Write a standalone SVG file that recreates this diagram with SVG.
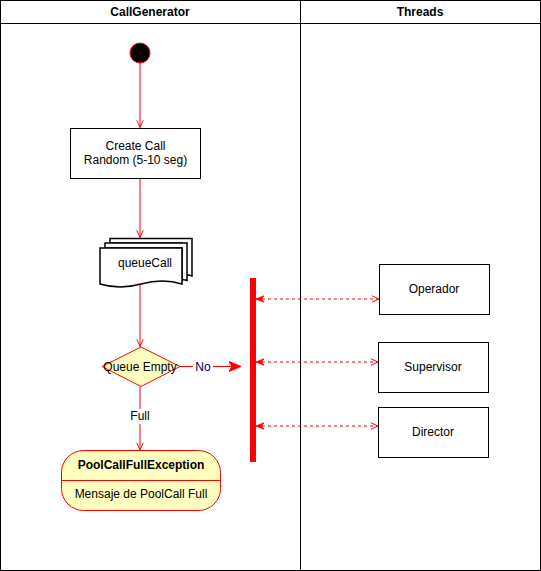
<svg xmlns="http://www.w3.org/2000/svg" width="541" height="571" viewBox="0 0 541 571">
<defs>
<style>
text{font-family:"Liberation Sans",Arial,sans-serif;font-size:12px;fill:#000;text-anchor:middle;dominant-baseline:central}
.b{font-weight:bold}
.lane{fill:none;stroke:#000;stroke-width:1}
.box{fill:#fff;stroke:#000;stroke-width:1}
.red{stroke:#ff0000;fill:none;stroke-width:1}
.dash{stroke:#ff0000;fill:none;stroke-width:1;stroke-dasharray:3 3}
.yel{fill:#ffffc0;stroke:#ff0000;stroke-width:1}
</style>
<marker id="open" viewBox="0 0 10 10" refX="10" refY="5" markerWidth="8" markerHeight="8" markerUnits="userSpaceOnUse" orient="auto">
<path d="M1,1 L10,5 L1,9" fill="none" stroke="#ff0000" stroke-width="1.2"/>
</marker>
<marker id="openb" viewBox="0 0 10 10" refX="0" refY="5" markerWidth="8" markerHeight="8" markerUnits="userSpaceOnUse" orient="auto">
<path d="M10,1 L0,5 L10,9 L7,5 Z" fill="#ff0000" stroke="#ff0000" stroke-width="1"/>
</marker>
<marker id="block" viewBox="0 0 12 12" refX="12" refY="6" markerWidth="12" markerHeight="12" markerUnits="userSpaceOnUse" orient="auto">
<path d="M0,1 L12,6 L0,11 L3,6 Z" fill="#ff0000" stroke="#ff0000" stroke-width="1"/>
</marker>
</defs>
<g id="lanes">
<rect class="lane" x="0.5" y="0.5" width="540" height="570"/>
<line class="lane" x1="0.5" y1="23.5" x2="540.5" y2="23.5"/>
<line class="lane" x1="300.5" y1="0.5" x2="300.5" y2="570.5"/>
<text class="b" x="150" y="12">CallGenerator</text>
<text class="b" x="420" y="12">Threads</text>
</g>
<g id="connectors">
<line class="red" x1="140" y1="63" x2="140" y2="127.5" marker-end="url(#open)"/>
<line class="red" x1="140" y1="178" x2="140" y2="237.5" marker-end="url(#open)"/>
<line class="red" x1="140" y1="284" x2="140" y2="346.5" marker-end="url(#open)"/>
<line class="red" x1="180" y1="366.5" x2="241" y2="366.5" marker-end="url(#block)"/>
<line class="red" x1="140" y1="387" x2="140" y2="450" marker-end="url(#open)"/>
<line class="dash" x1="256" y1="299" x2="379" y2="299" marker-start="url(#openb)" marker-end="url(#open)"/>
<line class="dash" x1="256" y1="362" x2="378" y2="362" marker-start="url(#openb)" marker-end="url(#open)"/>
<line class="dash" x1="256" y1="426" x2="378" y2="426" marker-start="url(#openb)" marker-end="url(#open)"/>
<rect x="193" y="359" width="20" height="15" fill="#fff"/>
<text x="203" y="366.5" style="fill:#000055">No</text>
<rect x="128" y="409" width="24" height="15" fill="#fff"/>
<text x="140" y="416">Full</text>
</g>
<g id="start">
<circle cx="140" cy="53" r="10" fill="#000" stroke="#ff0000" stroke-width="1"/>
</g>
<g id="createCall">
<rect class="box" x="70.5" y="128.5" width="130" height="50"/>
<text x="135.5" y="146">Create Call</text>
<text x="135.5" y="160">Random (5-10 seg)</text>
</g>
<g id="queueCall">
<path d="M110,238.5 H192 V276 Q186,274 182,275.5 V243 H110 Z" fill="#fff" stroke="#000" stroke-width="1.5"/>
<path d="M105,243 H187 V280.5 Q184,279.5 182,280 V248 H105 Z" fill="#fff" stroke="#000" stroke-width="1.5"/>
<path d="M100,248 H182 V284 Q163,278 141,284 Q120,290 100,284 Z" fill="#fff" stroke="#000" stroke-width="1.5"/>
<text x="145" y="263">queueCall</text>
</g>
<g id="queueEmpty">
<path class="yel" d="M141,347 L180,366.5 L141,386.5 L102,366.5 Z"/>
<text x="140" y="366.5">Queue Empty</text>
</g>
<g id="bar">
<rect x="250" y="278" width="6" height="184" fill="#ff0000"/>
</g>
<g id="operador">
<rect class="box" x="379.5" y="264.5" width="110" height="50"/>
<text x="434" y="289">Operador</text>
</g>
<g id="supervisor">
<rect class="box" x="378.5" y="342.5" width="110" height="50"/>
<text x="433" y="367">Supervisor</text>
</g>
<g id="director">
<rect class="box" x="378.5" y="407.5" width="110" height="50"/>
<text x="433" y="432">Director</text>
</g>
<g id="poolCallFullException">
<rect class="yel" x="61.5" y="450.5" width="159" height="60" rx="22" ry="22"/>
<line class="red" x1="61.5" y1="480.5" x2="220.5" y2="480.5"/>
<text class="b" x="141" y="465">PoolCallFullException</text>
<text x="141" y="494">Mensaje de PoolCall Full</text>
</g>
</svg>
